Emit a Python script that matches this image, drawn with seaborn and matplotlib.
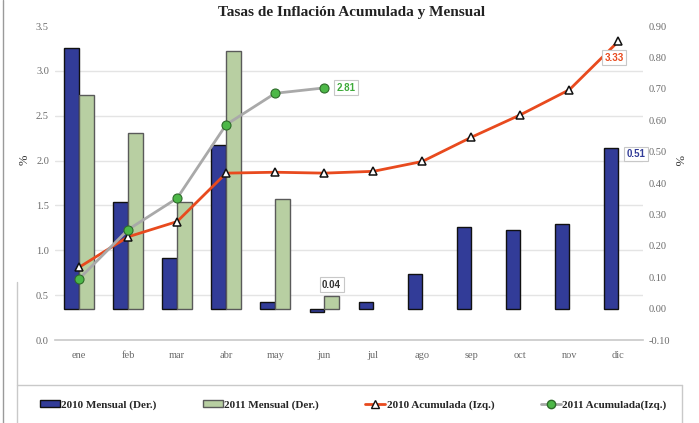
import numpy as np
import pandas as pd
import matplotlib
matplotlib.use("Agg")
import matplotlib.pyplot as plt
from matplotlib.lines import Line2D
from matplotlib.patches import Patch
from matplotlib.ticker import FormatStrFormatter
import seaborn as sns

# ---- data ----
meses = ["ene", "feb", "mar", "abr", "may", "jun", "jul", "ago", "sep", "oct", "nov", "dic"]
mensual_2010 = [0.83, 0.34, 0.16, 0.52, 0.02, -0.01, 0.02, 0.11, 0.26, 0.25, 0.27, 0.51]
mensual_2011 = [0.68, 0.56, 0.34, 0.82, 0.35, 0.04]
acum_2010 = [0.81, 1.15, 1.32, 1.86, 1.87, 1.86, 1.88, 1.99, 2.26, 2.51, 2.79, 3.33]
acum_2011 = [0.68, 1.23, 1.58, 2.40, 2.75, 2.81]
serie_labels = ["2010 Mensual (Der.)", "2011 Mensual (Der.)",
                "2010 Acumulada (Izq.)", "2011 Acumulada(Izq.)"]
left_ticks = [0.0, 0.5, 1.0, 1.5, 2.0, 2.5, 3.0, 3.5]
right_ticks = [-0.10, 0.00, 0.10, 0.20, 0.30, 0.40, 0.50, 0.60, 0.70, 0.80, 0.90]

# ---- styling ----
sns.set_theme(style="white")
plt.rcParams["font.family"] = ["Liberation Serif", "DejaVu Serif"]

c_navy = "#323C98"
c_green = "#B8CFA2"
c_red = "#E84A1E"
c_gray = "#A9A9A9"
c_dot = "#4DB848"
tick_col = "#6A6A6A"

bars = pd.DataFrame({
    "mes": meses * 2,
    "serie": [serie_labels[0]] * 12 + [serie_labels[1]] * 12,
    "valor": mensual_2010 + mensual_2011 + [np.nan] * (12 - len(mensual_2011)),
})

fig = plt.figure(figsize=(6.99, 4.23), dpi=100)
ax = fig.add_axes([54.5 / 699, 1 - 340 / 423, (643 - 54.5) / 699, (340 - 26) / 423])
ax2 = ax.twinx()

# bars on the primary axes (shown on the right side)
sns.barplot(data=bars, x="mes", y="valor", hue="serie", order=meses,
            hue_order=serie_labels[:2], palette=[c_navy, c_green],
            width=0.6, ax=ax, legend=False, saturation=1)
n = len(meses)
for i, p in enumerate(ax.patches):
    p.set_edgecolor("#111111" if i < n else "#5A5A5A")
    p.set_linewidth(1.0)

ax.set_ylim(-0.10, 0.90)
ax.set_xlim(-0.5, n - 0.5)
ax.set_yticks(right_ticks)
ax.yaxis.set_major_formatter(FormatStrFormatter("%.2f"))
ax.yaxis.tick_right()
ax.yaxis.set_label_position("right")
ax.set_ylabel("%", fontsize=9, color="#333333", rotation=270, va="center", ha="center")
ax.yaxis.set_label_coords(1.0595, 0.573)
ax.set_xlabel("")
# gridlines at the left-axis tick values, drawn behind the bars
lo, hi = left_ticks[0], left_ticks[-1]
grid_pos = [-0.10 + (v - lo) / (hi - lo) * 1.0 for v in left_ticks[1:]]
ax.set_yticks(grid_pos, minor=True)
ax.grid(which="minor", axis="y", color="#E4E4E4", lw=1.0)
ax.grid(which="major", visible=False)
ax.set_axisbelow(True)
ax.tick_params(which="minor", length=0)

# lines on the twin axes (shown on the left side)
idx = np.arange(n)
sns.lineplot(x=idx, y=acum_2010, ax=ax2, color=c_red, lw=2.0, marker="^",
             markersize=6, markerfacecolor="white", markeredgecolor="#111111",
             markeredgewidth=1.1, zorder=3)
sns.lineplot(x=idx[:len(acum_2011)], y=acum_2011, ax=ax2, color=c_gray, lw=2.0,
             marker="o", markersize=6.5, markerfacecolor=c_dot,
             markeredgecolor="#2E6B2A", markeredgewidth=0.8, zorder=4)
ax2.set_ylim(lo, hi)
ax2.set_yticks(left_ticks)
ax2.yaxis.set_major_formatter(FormatStrFormatter("%.1f"))
ax2.yaxis.tick_left()
ax2.yaxis.set_label_position("left")
ax2.set_ylabel("%", fontsize=9, color="#333333", va="center", ha="center")
ax2.yaxis.set_label_coords(-0.050, 0.573)
ax2.grid(False)
ax2.set_xlim(-0.5, n - 0.5)

for a in (ax, ax2):
    for s in a.spines.values():
        s.set_visible(False)
    a.tick_params(axis="both", which="major", length=0, labelsize=7.5,
                  labelcolor=tick_col, pad=4)
ax.spines["bottom"].set_visible(True)
ax.spines["bottom"].set_color("#C8C8C8")
ax.spines["bottom"].set_linewidth(1.2)
ax.set_xticks(idx)
ax.set_xticklabels(meses)
ax.tick_params(axis="x", pad=8)

fig.suptitle("Tasas de Inflación Acumulada y Mensual", x=0.503, y=0.985,
             fontsize=11, fontweight="bold", color="#222222")

# ---- data labels ----
lab_font = dict(family=["Liberation Sans", "DejaVu Sans"], fontsize=7, fontweight="bold")
box = dict(boxstyle="square,pad=0.25", fc="white", ec="#C8C8C8", lw=0.8)
ax2.annotate(f"{acum_2011[-1]:.2f}", (idx[len(acum_2011) - 1], acum_2011[-1]),
             xytext=(9, 0), textcoords="offset points", ha="left", va="center",
             color="#3EAA3A", bbox=box, zorder=6, **lab_font)
ax2.annotate(f"{acum_2010[-1]:.2f}", (idx[-1], acum_2010[-1]),
             xytext=(-3, -12), textcoords="offset points", ha="center", va="center",
             color=c_red, bbox=box, zorder=6, **lab_font)
ax.annotate(f"{mensual_2010[-1]:.2f}", (idx[-1], mensual_2010[-1]),
            xytext=(6, -4), textcoords="offset points", ha="left", va="center",
            color=c_navy, bbox=box, zorder=6, **lab_font)
ax.annotate(f"{mensual_2011[-1]:.2f}", (idx[len(mensual_2011) - 1] + 0.15, mensual_2011[-1]),
            xytext=(0, 8), textcoords="offset points", ha="center", va="center",
            color="#333333", bbox=box, zorder=6, **lab_font)

# ---- legend ----
handles = [
    Patch(facecolor=c_navy, edgecolor="#111111", lw=1.0),
    Patch(facecolor=c_green, edgecolor="#5A5A5A", lw=1.0),
    Line2D([], [], color=c_red, lw=2.0, marker="^", markersize=6,
           markerfacecolor="white", markeredgecolor="#111111"),
    Line2D([], [], color=c_gray, lw=2.0, marker="o", markersize=6,
           markerfacecolor=c_dot, markeredgecolor="#2E6B2A"),
]
fig.legend(handles, serie_labels, loc="center", bbox_to_anchor=(0.505, 1 - 405 / 423),
           ncol=4, frameon=False, handlelength=1.8, handleheight=0.6,
           handletextpad=0.1, columnspacing=4.2,
           prop=dict(family=["Liberation Serif"], weight="bold", size=8))

# ---- frame lines ----
fc = "#C9C9C9"
fig.add_artist(Line2D([3 / 699, 3 / 699], [0, 1], color="#9A9A9A", lw=1.0))
fig.add_artist(Line2D([17 / 699, 682 / 699], [1 - 385 / 423] * 2, color=fc, lw=1.0))
fig.add_artist(Line2D([17 / 699] * 2, [0, 1 - 282 / 423], color=fc, lw=1.0))
fig.add_artist(Line2D([682 / 699] * 2, [0, 1 - 385 / 423], color=fc, lw=1.0))

fig.savefig("out.png", dpi=100, facecolor="white")
